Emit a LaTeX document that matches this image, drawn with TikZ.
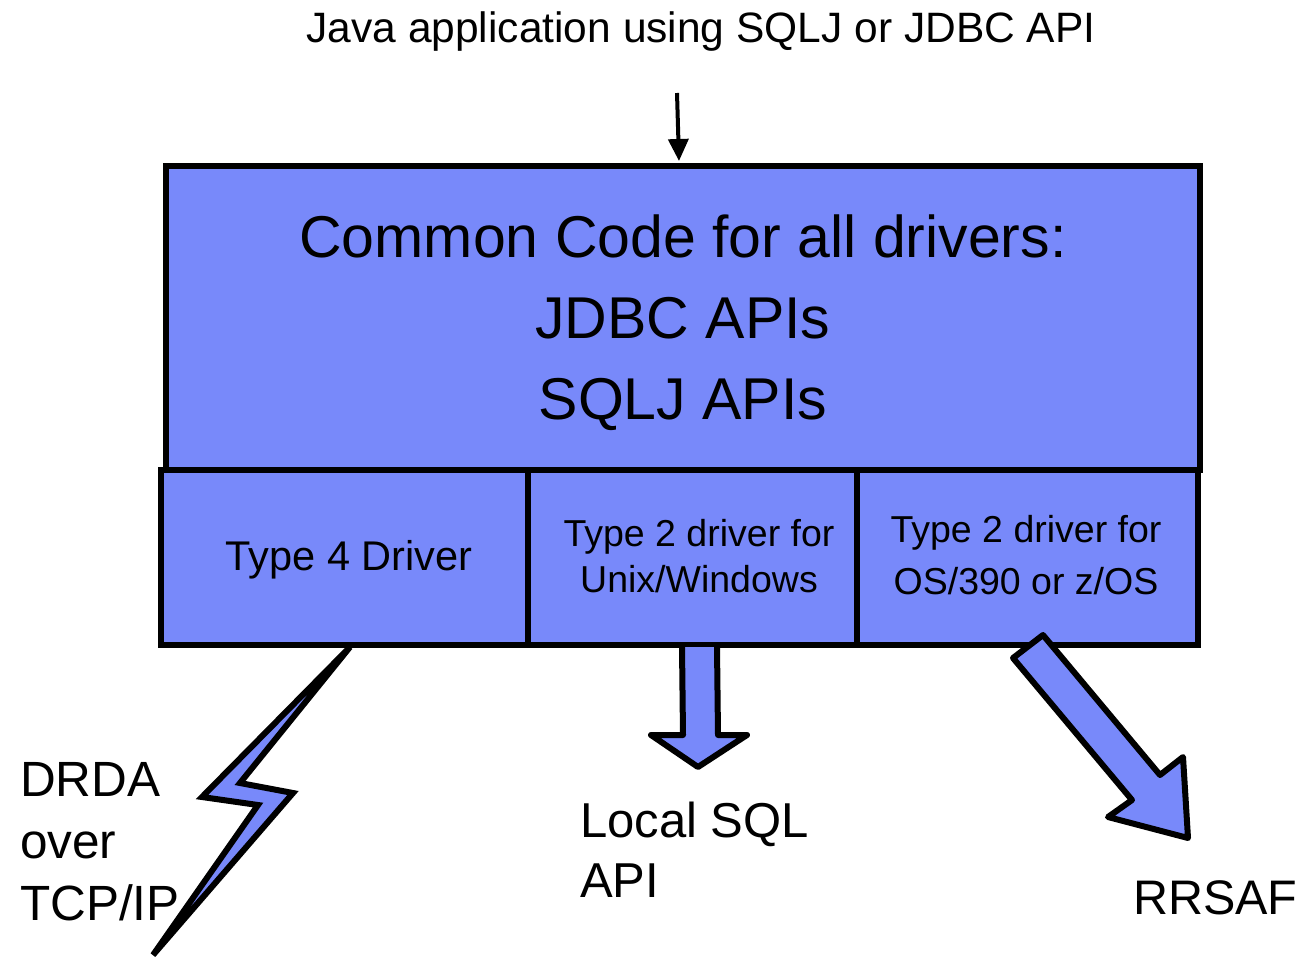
\documentclass[tikz,border=0pt]{standalone}
\usepackage{fontspec}
\setmainfont{Liberation Sans}
\usetikzlibrary{arrows.meta}
\definecolor{boxblue}{RGB}{120,137,250}
\tikzset{
  blk/.style={draw=black, line width=6pt, fill=boxblue, inner sep=0pt},
  shapeline/.style={draw=black, line width=6pt, fill=boxblue, line join=round},
  lbl/.style={inner sep=0pt, text=black},
}
\begin{document}
\begin{tikzpicture}[x=1pt,y=-1pt]
\useasboundingbox (0,0) rectangle (1301,959);
% top label
\node[lbl, anchor=base, font=\fontsize{42.5}{50}\selectfont] (java) at (701,42) {Java application using SQLJ or JDBC API};
% main box
\node[blk, minimum width=1034pt, minimum height=304pt] (common) at (683,318) {};
\node[lbl, align=center, font=\fontsize{59}{81}\selectfont] (commontxt) at (683,323) {Common Code for all drivers:\\JDBC APIs\\SQLJ APIs};
% driver boxes
\node[blk, minimum width=367pt, minimum height=175pt] (t4) at (344.5,557.5) {};
\node[blk, minimum width=329pt, minimum height=175pt] (t2u) at (692.5,557.5) {};
\node[blk, minimum width=341pt, minimum height=175pt] (t2z) at (1027.5,557.5) {};
\node[lbl, anchor=base, font=\fontsize{41.5}{48}\selectfont] (t4txt) at (349,570) {Type 4 Driver};
\node[lbl, align=center, font=\fontsize{37.5}{46}\selectfont] (t2utxt) at (699,556) {Type 2 driver for\\Unix/Windows};
\node[lbl, align=center, font=\fontsize{37.5}{52}\selectfont] (t2ztxt) at (1026,555) {Type 2 driver for\\OS/390 or z/OS};
% top arrow
\coordinate (javaend) at (677,93);
\coordinate (commonin) at (679,161);
\draw[line width=4pt, -{Triangle[length=22pt,width=20pt]}] (javaend) -- (commonin);
% lightning bolt (DRDA)
\filldraw[shapeline, line join=miter] (350,647) -- (202,797) -- (258,805) -- (153,955) -- (293,793) -- (240,783) -- cycle;
% local SQL arrow
\filldraw[shapeline] (682,647) -- (683,735) -- (651,735) -- (698,767) -- (747,735) -- (718,735) -- (717,647);
% RRSAF arrow
\filldraw[shapeline] (1013,658) -- (1043,635) -- (1160,775) -- (1183,757) -- (1188,838) -- (1108,817) -- (1132,800) -- cycle;
% bottom labels
\node[lbl, anchor=west, align=left, font=\fontsize{49.5}{62}\selectfont] (drda) at (20,842) {DRDA\\over\\TCP/IP};
\node[lbl, anchor=west, align=left, font=\fontsize{49}{60}\selectfont] (local) at (580,850) {Local SQL\\API};
\node[lbl, anchor=base west, font=\fontsize{48.5}{58}\selectfont] (rrsaf) at (1133,914) {RRSAF};
\end{tikzpicture}
\end{document}
